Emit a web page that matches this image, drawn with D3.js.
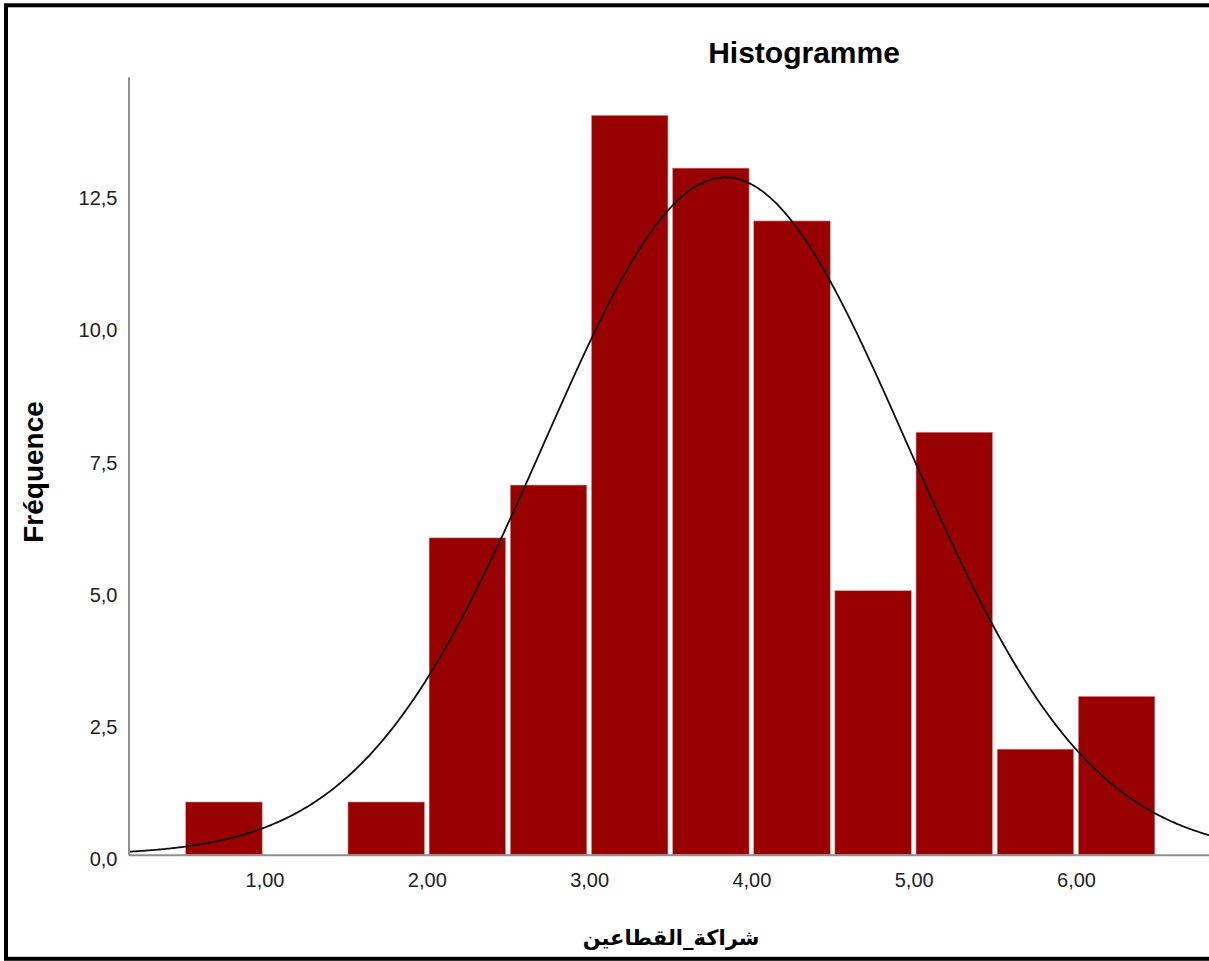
<!DOCTYPE html>
<html>
<head>
<meta charset="utf-8">
<script src="https://cdn.jsdelivr.net/npm/d3@7/dist/d3.min.js"></script>
<style>
  html, body { margin: 0; padding: 0; background: #fff; }
  svg { display: block; }
</style>
</head>
<body>
<script>
// Histogram bins (lower edge, upper edge) and counts
const binStarts = [0.5, 1.0, 1.5, 2.0, 2.5, 3.0, 3.5, 4.0, 4.5, 5.0, 5.5, 6.0];
const binWidth = 0.5;
const counts = [1, 0, 1, 6, 7, 14, 13, 12, 5, 8, 2, 3];

// Fitted normal curve parameters
const curveMean = 3.84;
const curveSd = 1.12;
const curveN = 72;

// Axis ticks
const xTicks = [1, 2, 3, 4, 5, 6];
const yTicks = [0, 2.5, 5, 7.5, 10, 12.5];

const chartTitle = "Histogramme";
const xTitle = "شراكة_القطاعين";
const yTitle = "Fréquence";

const W = 1209, H = 961;
const svg = d3.select("body").append("svg").attr("width", W).attr("height", H);

// Plot geometry
const plotLeft = 128.5, plotBottom = 854.8, plotTop = 76.7;
const xMin = 0.162, xMax = 7.2;
const pxPerUnit = 162.3;

const x = d3.scaleLinear().domain([xMin, xMax])
  .range([plotLeft, plotLeft + (xMax - xMin) * pxPerUnit]);
const y = d3.scaleLinear().domain([0, 14.73]).range([plotBottom, plotTop]);

const fmtX = v => d3.format(".2f")(v).replace(".", ",");
const fmtY = v => d3.format(".1f")(v).replace(".", ",");

// Bars
const inset = 2.3;
svg.append("g").selectAll("rect")
  .data(binStarts.map((s, i) => ({ x0: s, x1: s + binWidth, n: counts[i] })).filter(d => d.n > 0))
  .join("rect")
  .attr("x", d => x(d.x0) + inset)
  .attr("width", d => x(d.x1) - x(d.x0) - 2 * inset)
  .attr("y", d => y(d.n))
  .attr("height", d => y(0) - y(d.n))
  .attr("fill", "#990000")
  .attr("stroke", "#d9a0a0")
  .attr("stroke-width", 0.6);

// Normal curve scaled to counts
const scaleFactor = curveN * binWidth;
const pdf = v => scaleFactor / (curveSd * Math.sqrt(2 * Math.PI)) *
  Math.exp(-0.5 * Math.pow((v - curveMean) / curveSd, 2));
const curvePts = d3.range(xMin, xMax + 0.001, 0.01).map(v => [v, pdf(v)]);
svg.append("path")
  .datum(curvePts)
  .attr("fill", "none")
  .attr("stroke", "#111")
  .attr("stroke-width", 1.8)
  .attr("d", d3.line().x(d => x(d[0])).y(d => y(d[1])).curve(d3.curveBasis));

// Axes
const axisStyle = g => {
  g.select(".domain").attr("stroke", "#8f8f8f").attr("stroke-width", 2);
  g.selectAll(".tick line").remove();
  g.selectAll(".tick text")
    .attr("fill", "#222")
    .style("font-family", "'Liberation Sans', Arial, sans-serif")
    .style("font-size", "20px");
};

svg.append("g")
  .attr("transform", `translate(0,${plotBottom})`)
  .call(d3.axisBottom(x).tickValues(xTicks).tickFormat(fmtX).tickSize(0).tickPadding(18))
  .call(axisStyle);

svg.append("g")
  .attr("transform", `translate(${plotLeft},0)`)
  .call(d3.axisLeft(y).tickValues(yTicks).tickFormat(fmtY).tickSize(0).tickPadding(11))
  .call(axisStyle)
  .call(g => g.selectAll(".tick text").attr("dy", "0.52em"));

// Titles
svg.append("text")
  .attr("x", 804).attr("y", 62.5)
  .attr("text-anchor", "middle")
  .style("font-family", "'Liberation Sans', Arial, sans-serif")
  .style("font-weight", "bold").style("font-size", "30px")
  .attr("fill", "#000")
  .text(chartTitle);

svg.append("text")
  .attr("transform", "translate(43,472) rotate(-90)")
  .attr("text-anchor", "middle")
  .style("font-family", "'Liberation Sans', Arial, sans-serif")
  .style("font-weight", "bold").style("font-size", "28px")
  .attr("fill", "#000")
  .text(yTitle);

svg.append("text")
  .attr("x", 671).attr("y", 945)
  .attr("text-anchor", "middle")
  .style("font-family", "'DejaVu Sans', sans-serif")
  .style("font-weight", "bold").style("font-size", "21px")
  .attr("fill", "#000")
  .text(xTitle);

// Outer frame
svg.append("rect")
  .attr("x", 6).attr("y", 5.3)
  .attr("width", W + 20).attr("height", 953.5)
  .attr("fill", "none")
  .attr("stroke", "#000")
  .attr("stroke-width", 4);
</script>
</body>
</html>
